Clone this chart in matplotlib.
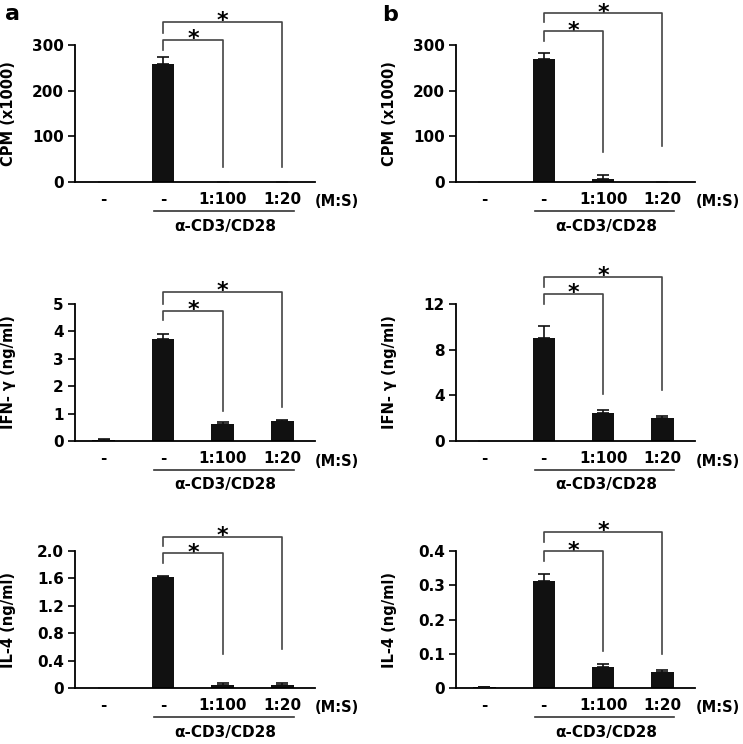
import matplotlib
matplotlib.use("Agg")
import matplotlib.pyplot as plt
import matplotlib.transforms as mtransforms
import numpy as np

plt.rcParams["font.family"] = ["DejaVu Sans"]
plt.rcParams["font.weight"] = "bold"

groups = ["-", "-", "1:100", "1:20"]

# panel a (left column)
cpm_a = [0, 258, 0, 0]
cpm_a_err = [0, 15, 0, 0]
ifn_a = [0.04, 3.72, 0.62, 0.73]
ifn_a_err = [0.02, 0.18, 0.08, 0.04]
il4_a = [0.0, 1.62, 0.05, 0.05]
il4_a_err = [0.0, 0.02, 0.02, 0.02]

# panel b (right column)
cpm_b = [0, 269, 7, 0]
cpm_b_err = [0, 13, 8, 0]
ifn_b = [0.0, 9.0, 2.45, 2.0]
ifn_b_err = [0.0, 1.1, 0.25, 0.2]
il4_b = [0.003, 0.312, 0.061, 0.048]
il4_b_err = [0.0, 0.022, 0.009, 0.006]

panels = [
    # values, errors, ylabel, ylim top, ticks, tick labels, bracket levels
    (cpm_a, cpm_a_err, "CPM (x1000)", 300, [0, 100, 200, 300], ["0", "100", "200", "300"],
     (1.04, 0.96, 1.17, 1.09, 0.11, 0.11)),
    (cpm_b, cpm_b_err, "CPM (x1000)", 300, [0, 100, 200, 300], ["0", "100", "200", "300"],
     (1.10, 1.03, 1.23, 1.17, 0.22, 0.26)),
    (ifn_a, ifn_a_err, "IFN- \u03b3 (ng/ml)", 5, [0, 1, 2, 3, 4, 5], ["0", "1", "2", "3", "4", "5"],
     (0.95, 0.88, 1.09, 1.0, 0.22, 0.25)),
    (ifn_b, ifn_b_err, "IFN- \u03b3 (ng/ml)", 12, [0, 4, 8, 12], ["0", "4", "8", "12"],
     (1.075, 1.0, 1.2, 1.125, 0.34, 0.375)),
    (il4_a, il4_a_err, "IL-4 (ng/ml)", 2.0, [0, 0.4, 0.8, 1.2, 1.6, 2.0],
     ["0", "0.4", "0.8", "1.2", "1.6", "2.0"],
     (0.985, 0.91, 1.105, 1.035, 0.245, 0.285)),
    (il4_b, il4_b_err, "IL-4 (ng/ml)", 0.4, [0, 0.1, 0.2, 0.3, 0.4],
     ["0", "0.1", "0.2", "0.3", "0.4"],
     (1.0, 0.93, 1.14, 1.065, 0.27, 0.25)),
]

W, H = 743, 744
fig = plt.figure(figsize=(W / 100, H / 100), dpi=100)

col_left = [75, 456]
col_width = [240, 239]
label_x = [16, 397]
row_top = [45, 304, 551]
ax_h = 137

for i, (vals, errs, ylabel, ytop, ticks, tlabels, br) in enumerate(panels):
    row, col = divmod(i, 2)
    left = col_left[col] / W
    bottom = 1 - (row_top[row] + ax_h) / H
    ax = fig.add_axes([left, bottom, col_width[col] / W, ax_h / H])

    x = np.arange(len(groups))
    lower = np.zeros(len(errs))
    ax.bar(x, vals, width=0.38, color="#111111", zorder=2)
    ax.errorbar(x, vals, yerr=[lower, errs], fmt="none", ecolor="#111111",
                elinewidth=1.2, capsize=4, capthick=1.2, zorder=3)

    ax.set_xlim(-0.48, 3.55)
    ax.set_ylim(0, ytop)
    ax.set_yticks(ticks)
    ax.set_yticklabels(tlabels, fontsize=11, fontweight="bold")
    ax.set_xticks(x)
    ax.set_xticklabels(groups, fontsize=11, fontweight="bold")
    ax.tick_params(axis="x", length=0, pad=7)
    ax.tick_params(axis="y", direction="out", length=5, width=1.2, pad=3)
    for s in ["top", "right"]:
        ax.spines[s].set_visible(False)
    for s in ["left", "bottom"]:
        ax.spines[s].set_linewidth(1.3)

    ax.set_ylabel(ylabel, fontsize=10.5, fontweight="bold")
    ax.yaxis.set_label_coords((label_x[col] - col_left[col]) / col_width[col], 0.5)

    # significance brackets
    small_y, small_stub, big_y, big_stub, end3, end4 = br
    bc = "#444444"
    for xr, ytop_f, stub_f, end_f in [(2, small_y, small_stub, end3), (3, big_y, big_stub, end4)]:
        ys = [stub_f * ytop, ytop_f * ytop, ytop_f * ytop, end_f * ytop]
        xs = [1, 1, xr, xr]
        ax.plot(xs, ys, color=bc, lw=1.2, clip_on=False, zorder=4)
        ax.annotate("*", xy=((1 + xr) / 2, ytop_f * ytop), xytext=(0, -4),
                    textcoords="offset points", ha="center", va="baseline",
                    fontsize=16, fontweight="bold", annotation_clip=False)

    trans = mtransforms.blended_transform_factory(ax.transData, ax.transAxes)
    ax.text(262 / col_width[col], -20 / ax_h, "(M:S)", transform=ax.transAxes,
            ha="center", va="center", fontsize=10.5, fontweight="bold")
    ax.plot([0.85, 3.2], [-29 / ax_h, -29 / ax_h], color="#333333", lw=1.2,
            transform=trans, clip_on=False)
    ax.text(2.05, -44 / ax_h, "\u03b1-CD3/CD28", transform=trans, ha="center",
            va="center", fontsize=11, fontweight="bold")

fig.text(12 / W, 1 - 14 / H, "a", fontsize=16, fontweight="bold", ha="center", va="center")
fig.text(390 / W, 1 - 15 / H, "b", fontsize=16, fontweight="bold", ha="center", va="center")

fig.savefig("out.png", dpi=100)
